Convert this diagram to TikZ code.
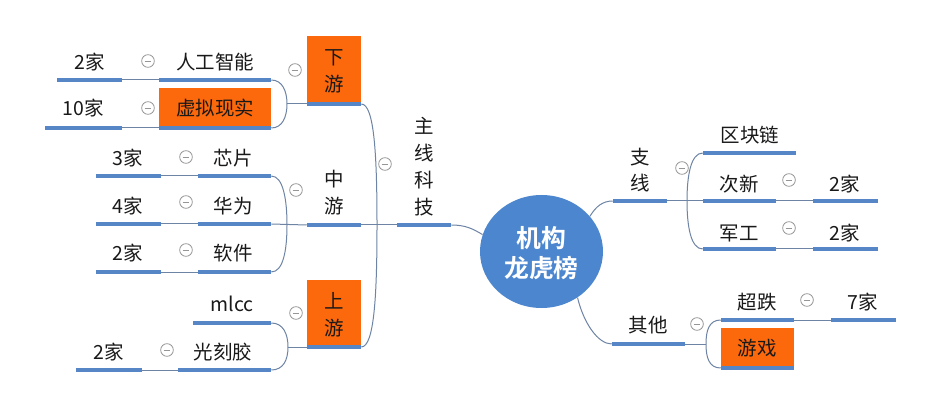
\documentclass[tikz,border=0pt]{standalone}
\usepackage{fontspec}
\setmainfont{Noto Sans CJK SC}[BoldFont={Noto Sans CJK SC Bold}]
\usetikzlibrary{shapes.geometric}
\definecolor{barblue}{RGB}{86,134,198}
\definecolor{ctrblue}{RGB}{76,134,206}
\definecolor{linec}{RGB}{110,132,165}
\definecolor{orng}{RGB}{252,104,12}
\definecolor{minusc}{RGB}{150,150,150}
\begin{document}
\begin{tikzpicture}[x=0.75pt,y=-0.75pt,
  bar/.style={draw=none,fill=barblue,rectangle,inner sep=0pt,minimum height=3pt},
  barw/.style={minimum width=#1*0.75pt},
  txt/.style={inner sep=0pt,align=center,font=\fontsize{14.6}{20}\selectfont,text=black!90},
  obox/.style={fill=orng,draw=none},
  minus/.style={circle,draw=minusc,line width=0.6pt,minimum size=9.5pt,inner sep=0pt,
    path picture={\draw[minusc,line width=0.6pt] ([xshift=-2.6pt]path picture bounding box.center) -- ([xshift=2.6pt]path picture bounding box.center);}},
  conn/.style={draw=linec,line width=0.75pt},
  ctr/.style={ellipse,fill=ctrblue,inner sep=0pt,minimum width=123*0.75pt,minimum height=113*0.75pt}
]
\useasboundingbox[fill=white] (0,0) rectangle (938,413);

% orange boxes
\fill[orng] (159,88) rectangle (271,128);
\fill[orng] (307,36) rectangle (361,104);
\fill[orng] (307,280) rectangle (361,347);
\fill[orng] (721,328) rectangle (794,368);

% ---- connectors (drawn under bars) ----
\node[ctr] (ctr) at (541.5,251.5) {};

% bars
\node[bar,barw=65] (b2a) at (89.5,80) {};
\node[bar,barw=112] (brgzn) at (215,80) {};
\node[bar,barw=77] (b10) at (83.5,128) {};
\node[bar,barw=112] (bxnxs) at (215,128) {};
\node[bar,barw=54] (bxy) at (334,104) {};
\node[bar,barw=65] (b3) at (128.5,176) {};
\node[bar,barw=73] (bxp) at (234.5,176) {};
\node[bar,barw=65] (b4) at (128.5,224) {};
\node[bar,barw=73] (bhw) at (234.5,224) {};
\node[bar,barw=65] (b2b) at (128.5,272) {};
\node[bar,barw=73] (brj) at (234.5,272) {};
\node[bar,barw=54] (bzy) at (334,225) {};
\node[bar,barw=78] (bmlcc) at (232,323) {};
\node[bar,barw=93] (bgkj) at (224.5,370) {};
\node[bar,barw=66] (b2c) at (109,370) {};
\node[bar,barw=54] (bsy) at (334,347) {};
\node[bar,barw=54] (bzx) at (424,225) {};
\node[bar,barw=54] (bzhx) at (640,201) {};
\node[bar,barw=93] (bqkl) at (749.5,153) {};
\node[bar,barw=73] (bcx) at (739.5,201) {};
\node[bar,barw=65] (b2d) at (845.5,201) {};
\node[bar,barw=73] (bjg) at (739.5,249) {};
\node[bar,barw=65] (b2e) at (845.5,249) {};
\node[bar,barw=73] (bqt) at (648.5,344) {};
\node[bar,barw=73] (bcd) at (757.5,320) {};
\node[bar,barw=65] (b7) at (863.5,320) {};
\node[bar,barw=73] (byx) at (757.5,368) {};

% bracket vertices
\coordinate (vxy) at (287,104);
\coordinate (vzy) at (287,225);
\coordinate (vsy) at (288,347);
\coordinate (vzx) at (377,225);
\coordinate (vzhx) at (687,201);
\coordinate (vqt) at (706,344);

% straight links
\draw[conn] (b2a.east) -- (brgzn.west);
\draw[conn] (b10.east) -- (bxnxs.west);
\draw[conn] (b3.east) -- (bxp.west);
\draw[conn] (b4.east) -- (bhw.west);
\draw[conn] (b2b.east) -- (brj.west);
\draw[conn] (b2c.east) -- (bgkj.west);
\draw[conn] (bcx.east) -- (b2d.west);
\draw[conn] (bjg.east) -- (b2e.west);
\draw[conn] (bcd.east) -- (b7.west);

% 下游 bracket
\draw[conn] (brgzn.east) .. controls +(11,0) and +(0,-13) .. (vxy) .. controls +(0,13) and +(11,0) .. (bxnxs.east);
\draw[conn] (vxy) -- (bxy.west);
% 中游 bracket
\draw[conn] (bxp.east) .. controls +(12,0) and +(0,-25) .. (vzy) .. controls +(0,25) and +(12,0) .. (brj.east);
\draw[conn] (bhw.east) -- (bzy.west);
% 上游 bracket
\draw[conn] (bmlcc.east) .. controls +(12,0) and +(0,-13) .. (vsy) .. controls +(0,13) and +(12,0) .. (bgkj.east);
\draw[conn] (vsy) -- (bsy.west);
% 主线 bracket
\draw[conn] (bxy.east) .. controls +(13,0) and +(0,-70) .. (vzx) .. controls +(0,70) and +(13,0) .. (bsy.east);
\draw[conn] (bzy.east) -- (bzx.west);
% center links
\draw[conn] (bzx.east) .. controls +(14,0) and +(-10,-6) .. (ctr.164);
\draw[conn] (ctr.36) .. controls +(6,-10) and +(-10,0) .. (bzhx.west);
\draw[conn] (ctr.-52) .. controls +(6,25) and +(-14,0) .. (bqt.west);
% 支线 bracket
\draw[conn] (bzhx.east) -- (bcx.west);
\draw[conn] (bqkl.west) .. controls +(-12,0) and +(0,-25) .. (vzhx) .. controls +(0,25) and +(-12,0) .. (bjg.west);
% 其他 bracket
\draw[conn] (bqt.east) -- (vqt);
\draw[conn] (bcd.west) .. controls +(-12,0) and +(0,-13) .. (vqt) .. controls +(0,13) and +(-12,0) .. (byx.west);

% redraw bars on top
\foreach \n in {b2a,brgzn,b10,bxnxs,bxy,b3,bxp,b4,bhw,b2b,brj,bzy,bmlcc,bgkj,b2c,bsy,bzx,bzhx,bqkl,bcx,b2d,bjg,b2e,bqt,bcd,b7,byx}
  \fill[barblue] ([yshift=-1.5pt]\n.west) rectangle ([yshift=1.5pt]\n.east);

% minus markers
\node[minus] (m1) at (148,61) {};
\node[minus] (m2) at (148,108) {};
\node[minus] (m3) at (295,70) {};
\node[minus] (m4) at (186,157) {};
\node[minus] (m5) at (186,202) {};
\node[minus] (m6) at (186,250) {};
\node[minus] (m7) at (296,190) {};
\node[minus] (m8) at (296,313) {};
\node[minus] (m9) at (167,350) {};
\node[minus] (m10) at (385,164) {};
\node[minus] (m11) at (682,168) {};
\node[minus] (m12) at (789,180) {};
\node[minus] (m13) at (789,228) {};
\node[minus] (m14) at (697,324) {};
\node[minus] (m15) at (807,300) {};

% texts
\node[txt] (t2a) at (90,62) {2家};
\node[txt] (trgzn) at (215,62) {人工智能};
\node[txt] (t10) at (83,108) {10家};
\node[txt] (txnxs) at (215,108) {虚拟现实};
\node[txt] (txy) at (334,71.5) {下\\游};
\node[txt] (t3) at (128,158) {3家};
\node[txt] (txp) at (233,158) {芯片};
\node[txt] (t4) at (128,206) {4家};
\node[txt] (thw) at (233,206) {华为};
\node[txt] (t2b) at (128,253) {2家};
\node[txt] (trj) at (233,253) {软件};
\node[txt] (tzy) at (334,192.5) {中\\游};
\node[txt] (tmlcc) at (232,304) {mlcc};
\node[txt] (tsy) at (334,315) {上\\游};
\node[txt] (t2c) at (109,352) {2家};
\node[txt] (tgkj) at (223,352) {光刻胶};
\node[txt,font=\fontsize{14.6}{20.2}\selectfont] (tzx) at (424,166.5) {主\\线\\科\\技};
\node[txt,text=white,font=\fontsize{18.6}{22.5}\selectfont\bfseries] (tctr) at (541.5,253) {机构\\龙虎榜};
\node[txt] (tzhx) at (640,170) {支\\线};
\node[txt] (tqkl) at (750,135) {区块链};
\node[txt] (tcx) at (739,184) {次新};
\node[txt] (t2d) at (845,184) {2家};
\node[txt] (tjg) at (739,233) {军工};
\node[txt] (t2e) at (845,233) {2家};
\node[txt] (tqt) at (648,325) {其他};
\node[txt] (tcd) at (757,302) {超跌};
\node[txt] (t7) at (863,302) {7家};
\node[txt] (tyx) at (757,348) {游戏};
\end{tikzpicture}
\end{document}
